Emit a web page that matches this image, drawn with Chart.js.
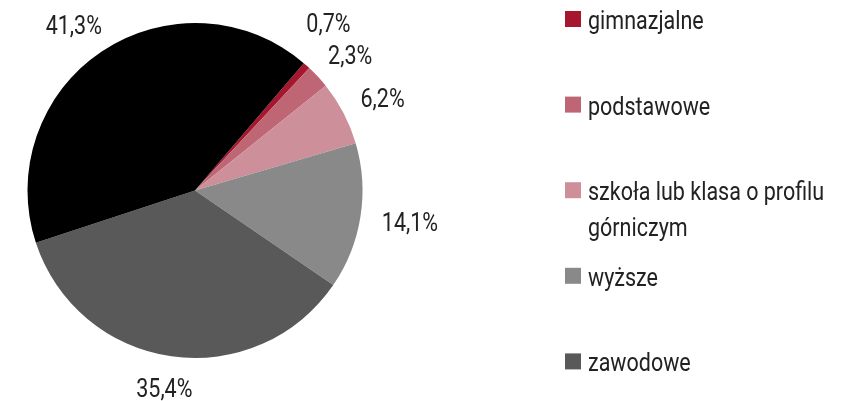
<!DOCTYPE html>
<html>
<head>
<meta charset="utf-8">
<script src="https://cdn.jsdelivr.net/npm/chart.js@4/dist/chart.umd.min.js"></script>
<style>
  html, body { margin: 0; padding: 0; background: #fff; }
  #wrap { width: 851px; height: 401px; }
</style>
</head>
<body>
<div id="wrap"><canvas id="pie" width="851" height="401"></canvas></div>
<script>
// Education structure (%), order as drawn clockwise from the rotated start.
var categories = [ 'gimnazjalne', 'podstawowe', 'szkoła lub klasa o profilu górniczym', 'wyższe', 'zawodowe', 'średnie' ];
var shares     = [ 0.7, 2.3, 6.2, 14.1, 35.4, 41.3 ];
var colors     = [ '#a6172f', '#bf6675', '#cd8f9a', '#898989', '#595959', '#000000' ];
var notInLegend = [ 'średnie' ];

var FONT = '400 25px Roboto, "Noto Sans", sans-serif';
var TEXT = '#222222';
var SQUEEZE = 0.86; // condensed look

function pct( v ) {
	return v.toFixed( 1 ).replace( '.', ',' ) + '%';
}

function textWidth( ctx, s ) {
	return ctx.measureText( s ).width * SQUEEZE;
}

function drawText( ctx, s, x, y ) {
	ctx.save();
	ctx.translate( x, y );
	ctx.scale( SQUEEZE, 1 );
	ctx.fillText( s, 0, 0 );
	ctx.restore();
}

// Percent labels just outside each slice.
var outsideLabels = {
	id: 'outsideLabels',
	afterDatasetsDraw: function ( chart ) {
		var ctx  = chart.ctx;
		var arcs = chart.getDatasetMeta( 0 ).data;
		var vals = chart.data.datasets[ 0 ].data;
		ctx.save();
		ctx.font = FONT;
		ctx.fillStyle = TEXT;
		ctx.textAlign = 'left';
		ctx.textBaseline = 'alphabetic';
		var boxes = arcs.map( function ( arc, i ) {
			var mid = ( arc.startAngle + arc.endAngle ) / 2;
			var R   = arc.outerRadius + 22;
			var s   = pct( vals[ i ] );
			var w   = textWidth( ctx, s );
			var h   = 20;
			var cx  = arc.x + R * Math.cos( mid ) + ( w / 2 ) * Math.cos( mid );
			var cy  = arc.y + R * Math.sin( mid ) + ( h / 2 ) * Math.sin( mid );
			return { s: s, w: w, h: h, cx: cx, cy: cy, upper: Math.sin( mid ) < 0 };
		} );
		// push small neighbouring labels apart
		for ( var i = boxes.length - 2; i >= 0; i-- ) {
			var a = boxes[ i ], b = boxes[ i + 1 ];
			var ox = ( a.w + b.w ) / 2 - Math.abs( a.cx - b.cx );
			var oy = ( a.h + b.h ) / 2 - Math.abs( a.cy - b.cy );
			if ( ox > 0 && oy > 0 ) {
				a.cy += ( a.upper ? -1 : 1 ) * ( oy + 12 );
				a.cx -= ox / 4;
			}
		}
		boxes.forEach( function ( b ) {
			drawText( ctx, b.s, b.cx - b.w / 2, b.cy + 9 );
		} );
		ctx.restore();
	}
};

// Legend on the right, with wrapping of long names.
var sideLegend = {
	id: 'sideLegend',
	afterDraw: function ( chart, args, opts ) {
		var ctx = chart.ctx;
		var ds  = chart.data.datasets[ 0 ];
		ctx.save();
		ctx.font = FONT;
		ctx.textBaseline = 'alphabetic';
		var row = 0;
		chart.data.labels.forEach( function ( name, i ) {
			if ( notInLegend.indexOf( name ) !== -1 ) { return; }
			var y = opts.top + row * opts.step;
			ctx.fillStyle = ds.backgroundColor[ i ];
			ctx.fillRect( opts.x, y - opts.box / 2, opts.box, opts.box );
			// word wrap
			var words = name.split( ' ' ), lines = [], line = '';
			words.forEach( function ( wd ) {
				var test = line ? line + ' ' + wd : wd;
				if ( line && textWidth( ctx, test ) > opts.maxWidth ) {
					lines.push( line );
					line = wd;
				} else {
					line = test;
				}
			} );
			lines.push( line );
			ctx.fillStyle = TEXT;
			lines.forEach( function ( l, k ) {
				drawText( ctx, l, opts.x + opts.box + 7, y + 10 + k * opts.lineHeight );
			} );
			row++;
		} );
		ctx.restore();
	}
};

new Chart( document.getElementById( 'pie' ), {
	type: 'pie',
	data: {
		labels: categories,
		datasets: [ {
			data: shares,
			backgroundColor: colors,
			borderWidth: 0
		} ]
	},
	options: {
		responsive: false,
		animation: false,
		rotation: 40.5,
		layout: { padding: { left: 27, top: 23, right: 488, bottom: 43 } },
		plugins: {
			legend: { display: false },
			tooltip: { enabled: false },
			sideLegend: { x: 565, top: 19, step: 85.6, box: 16, maxWidth: 255, lineHeight: 36 }
		}
	},
	plugins: [ outsideLabels, sideLegend ]
} );
</script>
</body>
</html>
